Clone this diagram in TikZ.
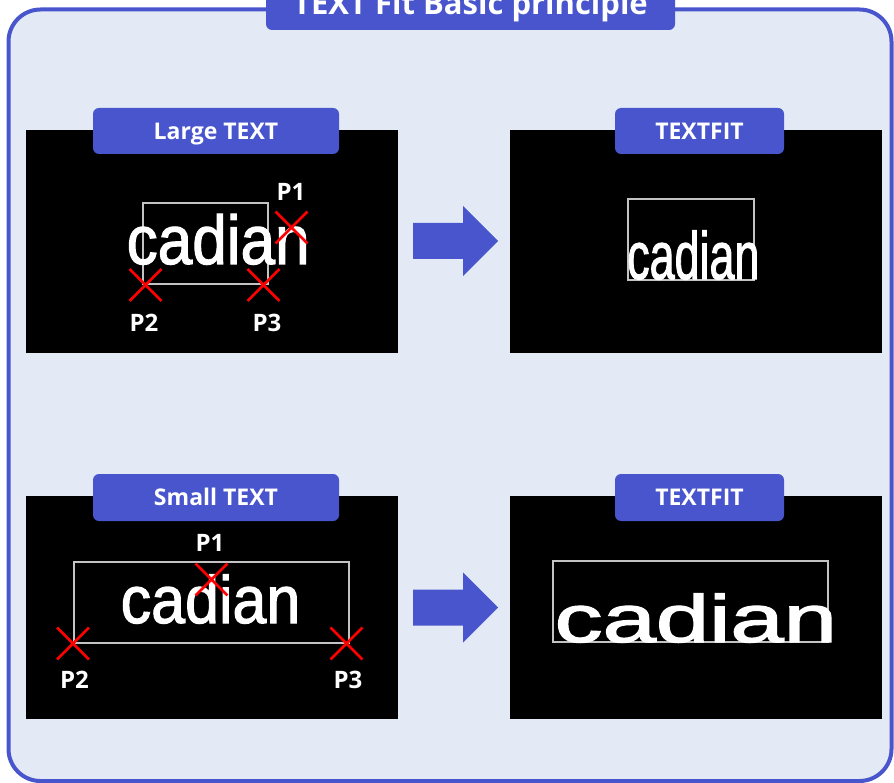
\documentclass[tikz,border=0pt]{standalone}
\usepackage{fontspec}
\setmainfont{Open Sans}
\newfontfamily\cadfont[FakeBold=1.8]{Liberation Sans}
\usetikzlibrary{positioning,shapes.misc}
\definecolor{framebl}{RGB}{72,85,204}
\definecolor{panelbg}{RGB}{227,234,245}
\definecolor{boxgray}{RGB}{195,195,195}

\begin{document}
\begin{tikzpicture}[x=1pt,y=-1pt,
  tagbox/.style={fill=framebl, rounded corners=6pt, text=white, inner sep=0pt,
    font=\bfseries\fontsize{23}{23}\selectfont, text height=16.5pt, text depth=0pt},
  fitbox/.style={draw=boxgray, line width=1.3pt},
  ptcross/.style={cross out, draw=red, line width=2.8pt, minimum size=29pt, inner sep=0pt},
  ptlabel/.style={text=white, inner sep=0pt, font=\bfseries\fontsize{24}{24}\selectfont},
  cadtext/.style={text=white, inner sep=0pt, anchor=base west}
]
\useasboundingbox (0,0) rectangle (894,783);
\clip (0,0) rectangle (894,783);

% Outer frame and title
\draw[framebl, line width=4pt, fill=panelbg, rounded corners=32pt] (8.5,9.5) rectangle (891.5,781);
\node[tagbox, minimum width=409pt, minimum height=50pt, text height=20pt,
  font=\bfseries\fontsize{31}{31}\selectfont] (title) at (470.5,5) {TEXT Fit Basic principle};

% Black screens
\foreach \i/\x/\y in {1/26/130, 2/510/130, 3/26/496, 4/510/496} {
    \fill[black] (\x,\y) rectangle ++(372,223);
}

% Tags on top of the screens
\node[tagbox, minimum width=246pt, minimum height=46pt] (tag1) at (216,131) {Large TEXT};
\node[tagbox, minimum width=169pt, minimum height=46pt] (tag2) at (699.5,131) {TEXTFIT};
\node[tagbox, minimum width=246pt, minimum height=47pt] (tag3) at (216,497.5) {Small TEXT};
\node[tagbox, minimum width=169pt, minimum height=47pt] (tag4) at (699.5,497.5) {TEXTFIT};

% Fit boxes
\draw[fitbox] (143,203) rectangle (268,284);
\draw[fitbox] (628,199) rectangle (754,280);
\draw[fitbox] (74,562) rectangle (349,643);
\draw[fitbox] (553,561) rectangle (828,642);

% The word in each screen
\node[cadtext] (word1) at (126.5,264) {\cadfont\fontsize{69}{69}\selectfont\scalebox{0.90}[1]{cadian}};
\node[cadtext] (word2) at (627,279) {\cadfont\fontsize{67}{67}\selectfont\scalebox{0.67}[1]{cadian}};
\node[cadtext] (word3) at (120.5,623) {\cadfont\fontsize{67}{67}\selectfont\scalebox{0.91}[1]{cadian}};
\node[cadtext] (word4) at (554.5,642) {\cadfont\fontsize{67}{67}\selectfont\scalebox{1.43}[1]{cadian}};

% Points and their labels
\foreach \i/\x/\y/\lx/\ly in {1/291.5/227.5/291/192, 2/145.5/285/144/322.5, 3/263.5/285/267/322.5} {
    \node[ptcross] (a\i) at (\x,\y) {};
    \node[ptlabel] (la\i) at (\lx,\ly) {P\i};
}
\foreach \i/\x/\y/\lx/\ly in {1/211.5/579.5/210/542.5, 2/73/643.5/74.5/680, 3/346.5/643.5/348/680} {
    \node[ptcross] (b\i) at (\x,\y) {};
    \node[ptlabel] (lb\i) at (\lx,\ly) {P\i};
}

% Block arrows
\foreach \i/\y in {1/241, 2/607.5} {
    \fill[framebl, shift={(413,\y)}] (0,-18) -- (50,-18) -- (50,-35) -- (85,0) -- (50,35) -- (50,18) -- (0,18) -- cycle;
}

\end{tikzpicture}
\end{document}
